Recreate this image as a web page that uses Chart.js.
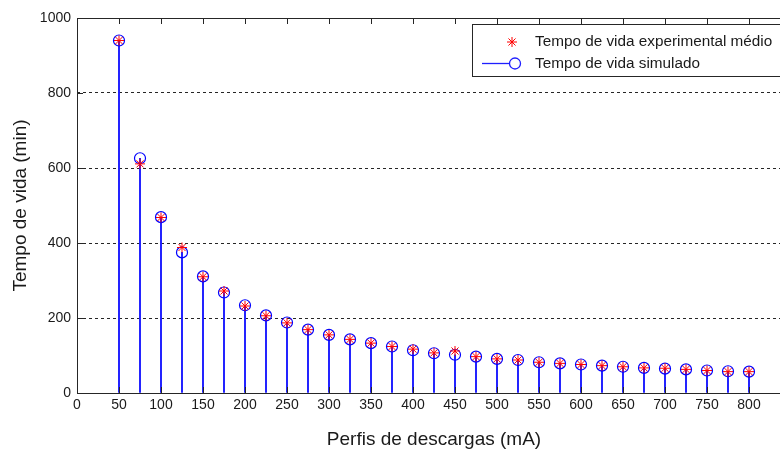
<!DOCTYPE html>
<html>
<head>
<meta charset="utf-8">
<script src="https://cdn.jsdelivr.net/npm/chart.js@4"></script>
<style>
  html, body { margin:0; padding:0; background:#fff; overflow:hidden; }
  #wrap { width:800px; height:454px; position:relative; }
</style>
</head>
<body>
<div id="wrap"><canvas id="chart"></canvas></div>
<script>
// DATA

const currents = [50,75,100,125,150,175,200,225,250,275,300,325,350,375,400,425,
  450,475,500,525,550,575,600,625,650,675,700,725,750,775,800];

const simulated = [940,626,469,375,311,268,234,207,188,169,155,143,133,124,114,106,
  102,97,91,88,82,79,76,73,70,67,65,63,60,58,57];

const experimental = [940,611,468,388,310,272,232,206,187,169,155,143,133,124,117,107,
  112,97,91,88,82,79,76,73,70,67,66,63,60,57,57];

const xTicks = [0,50,100,150,200,250,300,350,400,450,500,550,600,650,700,750,800];
const yTicks = [0,200,400,600,800,1000];

const labelExp = 'Tempo de vida experimental médio';
const labelSim = 'Tempo de vida simulado';

const pts = (arr) => currents.map((c,i) => ({x:c, y:arr[i]}));

const FONT = '"Liberation Sans", Arial, sans-serif';

// box, inward ticks and legend, like the matlab axes
const axesBox = {
  id:'axesBox',
  afterDatasetsDraw(chart){
    const {ctx, chartArea:a, scales:{x, y}} = chart;
    ctx.save();
    ctx.strokeStyle = '#262626';
    ctx.lineWidth = 1;
    ctx.beginPath();
    xTicks.forEach(t => {
      const px = Math.round(x.getPixelForValue(t)) + 0.5;
      ctx.moveTo(px, a.top); ctx.lineTo(px, a.top + 6);
      ctx.moveTo(px, a.bottom); ctx.lineTo(px, a.bottom - 6);
    });
    yTicks.forEach(t => {
      const py = Math.round(y.getPixelForValue(t)) + 0.5;
      ctx.moveTo(a.left, py); ctx.lineTo(a.left + 6, py);
    });
    ctx.stroke();
    ctx.strokeRect(Math.round(a.left)+0.5, Math.round(a.top)+0.5,
      Math.round(a.right - a.left), Math.round(a.bottom - a.top));

    // legend
    ctx.fillStyle = '#fff';
    ctx.fillRect(472.5, 24.5, 360, 52);
    ctx.strokeStyle = '#262626';
    ctx.strokeRect(472.5, 24.5, 360, 52);

    // star
    ctx.strokeStyle = 'red';
    ctx.beginPath();
    const sx = 512, sy = 42, r = 5;
    for (let k = 0; k < 4; k++) {
      const ang = k * Math.PI / 4;
      ctx.moveTo(sx - r*Math.cos(ang), sy - r*Math.sin(ang));
      ctx.lineTo(sx + r*Math.cos(ang), sy + r*Math.sin(ang));
    }
    ctx.stroke();

    // line + circle
    ctx.strokeStyle = '#1f1fff';
    ctx.lineWidth = 1.3;
    ctx.beginPath();
    ctx.moveTo(482, 63.5); ctx.lineTo(509.5, 63.5);
    ctx.stroke();
    ctx.beginPath();
    ctx.arc(515, 63.5, 5.5, 0, Math.PI*2);
    ctx.stroke();

    ctx.fillStyle = '#1a1a1a';
    ctx.font = '15.3px ' + FONT;
    ctx.textBaseline = 'middle';
    ctx.fillText(labelExp, 535, 42);
    ctx.fillText(labelSim, 535, 63.5);
    ctx.restore();
  }
};

const ctx = document.getElementById('chart');

new Chart(ctx, {
  data:{
    datasets:[
      {
        type:'scatter',
        label:labelExp,
        data:pts(experimental),
        pointStyle:'star',
        radius:5,
        borderColor:'red',
        backgroundColor:'red',
        borderWidth:1,
        order:0
      },
      {
        type:'scatter',
        label:labelSim,
        data:pts(simulated),
        pointStyle:'circle',
        radius:5.5,
        borderColor:'#0000ff',
        backgroundColor:'rgba(0,0,0,0)',
        borderWidth:1.2,
        order:1
      },
      {
        type:'bar',
        label:'stem',
        data:pts(simulated),
        backgroundColor:'#1f1fff',
        borderWidth:0,
        barThickness:1.3,
        order:2
      }
    ]
  },
  options:{
    responsive:true,
    maintainAspectRatio:false,
    animation:false,
    layout:{ padding:{ top:18, right:9, left:0, bottom:0 } },
    plugins:{
      legend:{ display:false },
      tooltip:{ enabled:false }
    },
    scales:{
      x:{
        type:'linear',
        offset:false,
        min:0,
        max:850,
        afterBuildTicks(s){ s.ticks = xTicks.map(v => ({value:v})); },
        afterFit(s){ s.height = 61; },
        grid:{ display:false, drawTicks:false, offset:false },
        border:{ display:false },
        ticks:{
          padding:4,
          color:'#1a1a1a',
          maxRotation:0,
          autoSkip:false,
          callback:(v) => String(v),
          font:{ family:FONT, size:14 }
        },
        title:{
          display:true,
          text:'Perfis de descargas (mA)',
          color:'#1a1a1a',
          padding:{ top:0, bottom:3 },
          font:{ family:FONT, size:19 }
        }
      },
      y:{
        min:0,
        max:1000,
        afterBuildTicks(s){ s.ticks = yTicks.map(v => ({value:v})); },
        afterFit(s){ s.width = 77; },
        grid:{
          drawTicks:false,
          color:(c) => (c.tick && (c.tick.value === 0 || c.tick.value === 1000)) ? 'rgba(0,0,0,0)' : '#262626',
          lineWidth:1
        },
        border:{ display:false, dash:[3,3] },
        ticks:{
          padding:6,
          color:'#1a1a1a',
          callback:(v) => String(v),
          font:{ family:FONT, size:14 }
        },
        title:{
          display:true,
          text:'Tempo de vida (min)',
          color:'#1a1a1a',
          padding:{ top:9, bottom:0 },
          font:{ family:FONT, size:19 }
        }
      }
    }
  },
  plugins:[axesBox]
});
</script>
</body>
</html>
